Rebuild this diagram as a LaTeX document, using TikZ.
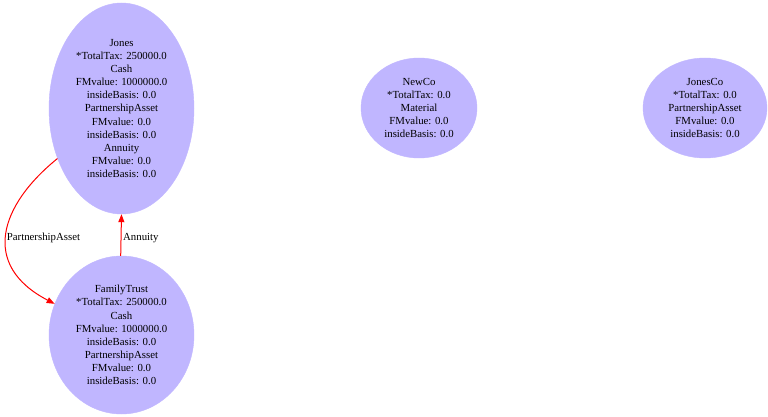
\documentclass[tikz,border=0pt]{standalone}
\usepackage{fontspec}
\setmainfont{Liberation Serif}
\usetikzlibrary{shapes.geometric,arrows.meta}
\definecolor{nodefill}{RGB}{192,182,255}
\definecolor{edgered}{RGB}{255,0,0}
\tikzset{
  entity/.style={ellipse, fill=nodefill, draw=nodefill, inner sep=0pt, align=center,
    font=\fontsize{10.8pt}{13.1pt}\selectfont},
  flow/.style={draw=edgered, line width=1pt, -{Triangle[length=8pt,width=6pt,color=edgered]}},
  elabel/.style={font=\fontsize{10.8pt}{13.1pt}\selectfont, inner sep=0pt}
}
\begin{document}
\begin{tikzpicture}[x=1pt,y=-1pt]
\useasboundingbox (0,0) rectangle (768,417);
\fill[white] (0,0) rectangle (768,417);
\node[entity, minimum width=145pt, minimum height=211pt] (jones) at (121.5,108.5)
  {Jones\\*TotalTax: 250000.0\\Cash\\FMvalue: 1000000.0\\insideBasis: 0.0\\PartnershipAsset\\FMvalue: 0.0\\insideBasis: 0.0\\Annuity\\FMvalue: 0.0\\insideBasis: 0.0};
\node[entity, minimum width=145pt, minimum height=158pt] (trust) at (121.5,335)
  {FamilyTrust\\*TotalTax: 250000.0\\Cash\\FMvalue: 1000000.0\\insideBasis: 0.0\\PartnershipAsset\\FMvalue: 0.0\\insideBasis: 0.0};
\node[entity, minimum width=116pt, minimum height=100pt] (newco) at (419,108)
  {NewCo\\*TotalTax: 0.0\\Material\\FMvalue: 0.0\\insideBasis: 0.0};
\node[entity, minimum width=124pt, minimum height=100pt] (jonesco) at (705,108)
  {JonesCo\\*TotalTax: 0.0\\PartnershipAsset\\FMvalue: 0.0\\insideBasis: 0.0};
\draw[flow] (jones.-142) .. controls (0,205) and (-20,265) .. (trust.155);
\draw[flow] ([xshift=-0.8pt]trust.north) -- (jones.south);
\node[elabel] (lpa) at (43.5,238) {PartnershipAsset};
\node[elabel, anchor=west] (lann) at (123,238) {Annuity};
\end{tikzpicture}
\end{document}
